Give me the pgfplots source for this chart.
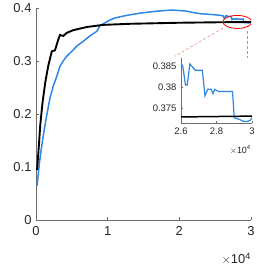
\documentclass[border=0pt]{standalone}
\usepackage{fontspec}
\setmainfont{Liberation Sans}
\usepackage{pgfplots}
\pgfplotsset{compat=1.18}
\definecolor{mblue}{RGB}{45,135,230}
\definecolor{axgray}{RGB}{110,110,110}
\definecolor{txt}{RGB}{38,38,38}
\definecolor{dred}{RGB}{240,120,120}
\begin{document}
\begin{tikzpicture}
\pgfplotsset{
  mstyle/.style={
    scale only axis,
    axis x line*=bottom, axis y line*=left,
    axis line style={axgray, line width=0.8pt},
    tick style={axgray, line width=0.6pt},
    tick align=inside,
    ticklabel style={txt},
    /pgf/number format/assume math mode=true,
    clip=true,
  }
}
\begin{axis}[mstyle,
  at={(0,0)}, anchor=south west,
  width=215bp, height=212bp,
  xmin=0, xmax=3, ymin=0, ymax=0.4,
  xtick={0,1,2,3}, xticklabels={0,1,2,3},
  ytick={0,0.1,0.2,0.3,0.4}, yticklabels={0,0.1,0.2,0.3,0.4},
  tick label style={font=\fontsize{13}{13}\selectfont},
  major tick length=3bp,
  xticklabel style={yshift=-3bp},
  yticklabel style={xshift=-1bp},
]
\addplot[mblue, line width=1.5pt] coordinates {
(0.015,0.064) (0.03,0.085) (0.05,0.11) (0.075,0.135) (0.1,0.158) (0.14,0.19)
(0.195,0.23) (0.24,0.252) (0.29,0.271) (0.335,0.29) (0.38,0.3) (0.43,0.309)
(0.5,0.318) (0.57,0.328) (0.65,0.336) (0.75,0.347) (0.85,0.356) (0.89,0.366)
(0.95,0.371) (1.03,0.377) (1.1,0.381) (1.2,0.384) (1.31,0.387) (1.5,0.391)
(1.7,0.394) (1.9,0.396) (2.0,0.395) (2.1,0.394) (2.2,0.391) (2.3,0.389)
(2.4,0.388) (2.5,0.387) (2.6,0.3855) (2.61,0.385) (2.625,0.3805) (2.635,0.3805)
(2.65,0.3855) (2.66,0.385) (2.68,0.384) (2.72,0.384) (2.735,0.378) (2.75,0.3795)
(2.77,0.3795) (2.78,0.3785) (2.79,0.3795) (2.81,0.379) (2.85,0.379) (2.89,0.379)
(2.9,0.3728) (2.93,0.3724) (2.95,0.372) (2.97,0.3719) (2.99,0.3722) (3.0,0.3728)
};
\addplot[black, line width=1.9pt] coordinates {
(0.015,0.094) (0.04,0.14) (0.06,0.18) (0.09,0.22) (0.13,0.26) (0.17,0.29)
(0.22,0.318) (0.265,0.32) (0.31,0.34) (0.335,0.349) (0.38,0.347) (0.43,0.353)
(0.52,0.358) (0.71,0.364) (0.94,0.368) (1.31,0.37) (2.0,0.372) (2.5,0.3728)
(2.6,0.373) (3.0,0.3732)
};
\draw[red, line width=0.8pt] (axis cs:2.81,0.3735) ellipse [x radius=14.5bp, y radius=6.5bp];
\draw[dred, densely dashed, line width=0.5pt] (axis cs:2.61,0.362) -- (axis cs:1.94,0.309);
\draw[dred, densely dashed, line width=0.5pt] (axis cs:2.944,0.357) -- (axis cs:2.944,0.292);
\end{axis}
\node[txt, anchor=north east, inner sep=0pt, font=\fontsize{13}{13}\selectfont] at (215bp,-33bp) {$\times$10\textsuperscript{4}};
\begin{axis}[mstyle,
  at={(145bp,97bp)}, anchor=south west,
  width=71bp, height=65bp,
  xmin=2.6, xmax=3, ymin=0.3716, ymax=0.3869,
  xtick={2.6,2.8,3}, xticklabels={2.6,2.8,3},
  ytick={0.375,0.38,0.385}, yticklabels={0.375,0.38,0.385},
  tick label style={font=\fontsize{9.5}{9.5}\selectfont},
  major tick length=2bp,
  xticklabel style={yshift=-1bp},
  yticklabel style={xshift=-1bp},
  axis background/.style={fill=white},
]
\addplot[mblue, line width=1.2pt] coordinates {
(2.6,0.3855) (2.61,0.385) (2.625,0.3805) (2.635,0.3805)
(2.65,0.3855) (2.66,0.385) (2.68,0.384) (2.72,0.384) (2.735,0.378) (2.75,0.3795)
(2.77,0.3795) (2.78,0.3785) (2.79,0.3795) (2.81,0.379) (2.85,0.379) (2.89,0.379)
(2.9,0.3728) (2.93,0.3724) (2.95,0.372) (2.97,0.3719) (2.99,0.3722) (3.0,0.3728)
};
\addplot[black, line width=1.5pt] coordinates {(2.6,0.373) (3.0,0.3732)};
\end{axis}
\node[txt, anchor=north east, inner sep=0pt, font=\fontsize{9}{9}\selectfont] at (215bp,75bp) {$\times$10\textsuperscript{4}};
\path[use as bounding box] (-36bp,-49bp) rectangle (241bp,217bp);
\end{tikzpicture}
\end{document}
